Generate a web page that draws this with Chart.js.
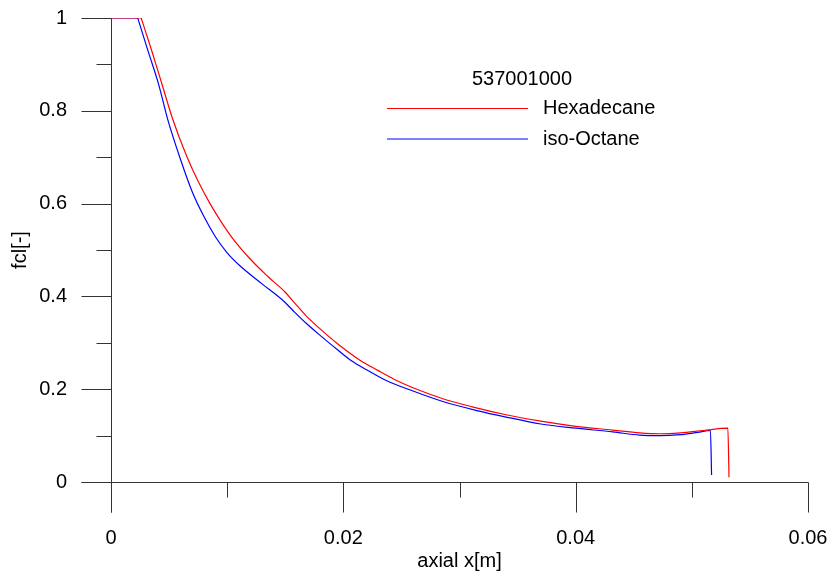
<!DOCTYPE html>
<html>
<head>
<meta charset="utf-8">
<script src="https://cdn.jsdelivr.net/npm/chart.js@4/dist/chart.umd.min.js"></script>
<style>
  html, body { margin: 0; padding: 0; background: #fff; }
</style>
</head>
<body>
<canvas id="fclChart" width="832" height="573"></canvas>
<script>
// run id shown above the legend
const legendTitle = '537001000';
const seriesNames = ['Hexadecane', 'iso-Octane'];

// Hexadecane: fcl along the axis
const hexX = [0, 0.0026, 0.00265, 0.0035, 0.0045, 0.0053, 0.0065, 0.0075, 0.0085, 0.0095, 0.0105, 0.0120, 0.0135,
  0.0150, 0.0158, 0.0168, 0.0180, 0.0195, 0.0214, 0.0230, 0.0244, 0.0260, 0.0285, 0.0311, 0.0340,
  0.0370, 0.0400, 0.0432, 0.0455, 0.0473, 0.0490, 0.0510, 0.0531, 0.0532];
const hexY = [1, 1, 0.996, 0.930, 0.848, 0.783, 0.703, 0.648, 0.601, 0.560, 0.524, 0.480, 0.443,
  0.409, 0.386, 0.358, 0.330, 0.298, 0.263, 0.240, 0.221, 0.203, 0.180, 0.162, 0.145,
  0.131, 0.120, 0.112, 0.106, 0.104, 0.106, 0.111, 0.116, 0.010];

// iso-Octane: fcl along the axis
const isoX = [0, 0.0023, 0.00235, 0.0032, 0.0041, 0.0049, 0.0060, 0.0070, 0.0080, 0.0090, 0.0100, 0.0111, 0.0130,
  0.0149, 0.0158, 0.0168, 0.0180, 0.0195, 0.0206, 0.0220, 0.0236, 0.0260, 0.0285, 0.0315, 0.0340,
  0.0370, 0.0400, 0.0432, 0.0455, 0.0473, 0.0490, 0.0505, 0.0516, 0.0517];
const isoY = [1, 1, 0.996, 0.928, 0.857, 0.780, 0.694, 0.625, 0.572, 0.528, 0.494, 0.466, 0.427,
  0.389, 0.366, 0.342, 0.316, 0.285, 0.263, 0.242, 0.220, 0.196, 0.174, 0.154, 0.140,
  0.125, 0.116, 0.108, 0.101, 0.0998, 0.102, 0.107, 0.111, 0.015];

// labelled (long) and unlabelled (short) ticks
const xMajor = [0, 0.02, 0.04, 0.06];
const xMinor = [0.01, 0.03, 0.05];
const yMajor = [0, 0.2, 0.4, 0.6, 0.8, 1];
const yMinor = [0.1, 0.3, 0.5, 0.7, 0.9];

const toPoints = (xs, ys) => xs.map((v, i) => ({ x: v, y: ys[i] }));
const FONT = 'Liberation Sans, Arial, sans-serif';

// fixed axis boxes, no extra room for overhanging labels
const fixBox = (w, h) => s => {
  if (w !== null) s.width = w;
  if (h !== null) s.height = h;
  s.paddingLeft = s.paddingRight = s.paddingTop = s.paddingBottom = 0;
};

// axis lines, long/short ticks and the legend block
const framePlugin = {
  id: 'frame',
  afterDraw(chart) {
    const { ctx, scales: { x, y } } = chart;
    const px = v => Math.round(x.getPixelForValue(v)) + 0.5;
    const py = v => Math.round(y.getPixelForValue(v)) + 0.5;
    const left = px(0), bottom = py(0);
    ctx.save();
    ctx.strokeStyle = '#333';
    ctx.lineWidth = 1;
    ctx.beginPath();
    ctx.moveTo(left - 30, bottom); ctx.lineTo(px(0.06), bottom);
    ctx.moveTo(left, py(1)); ctx.lineTo(left, bottom + 30);
    xMajor.forEach(v => { ctx.moveTo(px(v), bottom); ctx.lineTo(px(v), bottom + 30); });
    xMinor.forEach(v => { ctx.moveTo(px(v), bottom); ctx.lineTo(px(v), bottom + 15); });
    yMajor.forEach(v => { ctx.moveTo(left, py(v)); ctx.lineTo(left - 30, py(v)); });
    yMinor.forEach(v => { ctx.moveTo(left, py(v)); ctx.lineTo(left - 15, py(v)); });
    ctx.stroke();

    // legend
    ctx.font = '20px ' + FONT;
    ctx.fillStyle = '#000';
    ctx.textBaseline = 'middle';
    ctx.textAlign = 'center';
    ctx.fillText(legendTitle, 522, 79);
    ctx.textAlign = 'left';
    ctx.lineWidth = 1.2;
    chart.data.datasets.forEach((ds, i) => {
      const ly = 108.5 + i * 30.5;
      ctx.strokeStyle = ds.borderColor;
      ctx.beginPath();
      ctx.moveTo(387, ly); ctx.lineTo(528, ly);
      ctx.stroke();
      ctx.fillText(ds.label, 543, ly);
    });
    ctx.restore();
  }
};

new Chart(document.getElementById('fclChart'), {
  type: 'scatter',
  data: {
    datasets: [
      { label: seriesNames[0], data: toPoints(hexX, hexY), borderColor: '#ff0000' },
      { label: seriesNames[1], data: toPoints(isoX, isoY), borderColor: '#0000ff' }
    ]
  },
  options: {
    responsive: false,
    animation: false,
    showLine: true,
    layout: { padding: { top: 18, right: 24, left: 0, bottom: 0 } },
    elements: {
      point: { radius: 0 },
      line: { borderWidth: 1.2, cubicInterpolationMode: 'monotone', fill: false }
    },
    plugins: { legend: { display: false }, tooltip: { enabled: false } },
    scales: {
      x: {
        type: 'linear', min: 0, max: 0.06,
        grid: { display: false }, border: { display: false },
        afterFit: fixBox(null, 91),
        afterBuildTicks: s => { s.ticks = xMajor.map(v => ({ value: v })); },
        ticks: {
          padding: 36, maxRotation: 0, autoSkip: false,
          color: '#000', font: { family: FONT, size: 20 },
          callback: v => String(v)
        },
        title: { display: true, text: 'axial x[m]', color: '#000', padding: { top: 2, bottom: 0 },
          font: { family: FONT, size: 20 } }
      },
      y: {
        type: 'linear', min: 0, max: 1,
        grid: { display: false }, border: { display: false },
        afterFit: fixBox(111, null),
        afterBuildTicks: s => { s.ticks = yMajor.map(v => ({ value: v })); },
        ticks: {
          padding: 36, autoSkip: false,
          color: '#000', font: { family: FONT, size: 20 },
          callback: v => String(v)
        },
        title: { display: true, text: 'fcl[-]', color: '#000', padding: { top: 8, bottom: 0 },
          font: { family: FONT, size: 20 } }
      }
    }
  },
  plugins: [framePlugin]
});
</script>
</body>
</html>
